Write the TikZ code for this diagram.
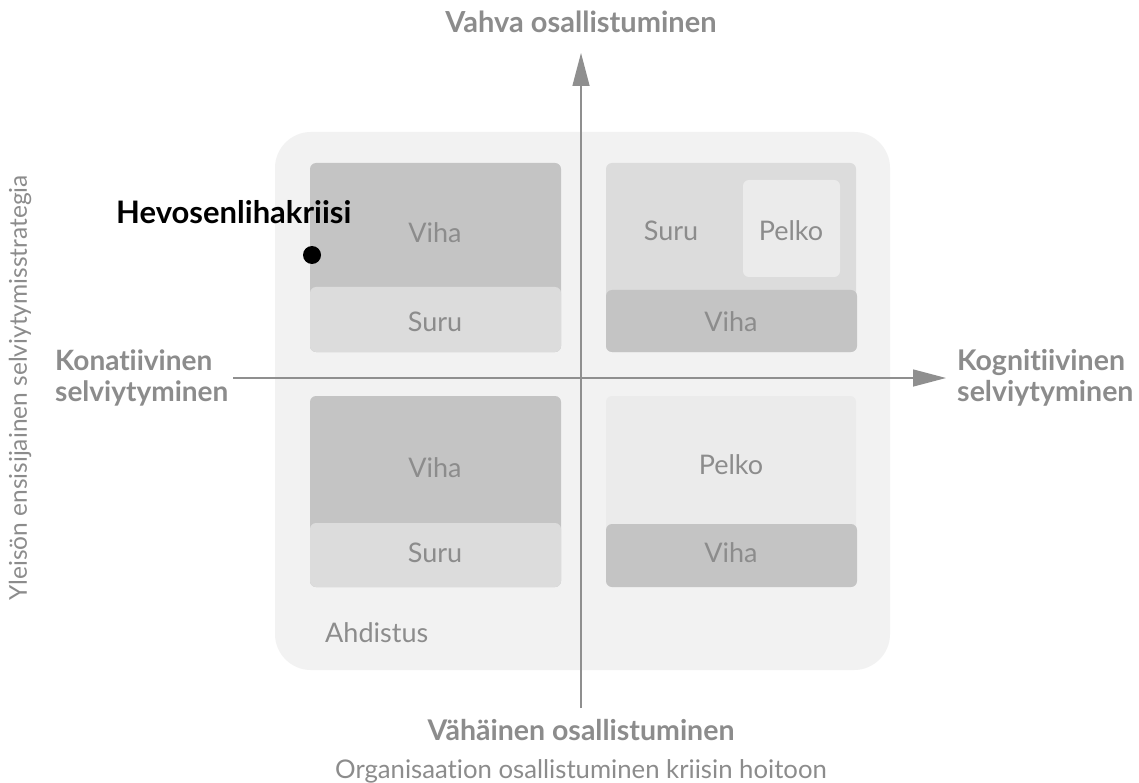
\documentclass[tikz,border=0pt]{standalone}
\usepackage{fontspec}
\setmainfont{Lato}[Ligatures=NoCommon]
\usetikzlibrary{arrows.meta}
\definecolor{txtgray}{HTML}{8C8C8C}
\definecolor{panel}{HTML}{F2F2F2}
\definecolor{darkbox}{HTML}{C4C4C4}
\definecolor{midbox}{HTML}{DCDCDC}
\definecolor{lightbox}{HTML}{EBEBEB}
\definecolor{axisgray}{HTML}{8F8F8F}
\tikzset{
  emo/.style={text=txtgray, font=\fontsize{27}{30}\selectfont, inner sep=0pt},
  axlabel/.style={text=txtgray, font=\bfseries\fontsize{28.5}{31}\selectfont, inner sep=0pt, align=left},
  axis/.style={draw=axisgray, line width=1.4pt, -{Triangle[length=33pt,width=17pt]}},
  boxr/.style={rounded corners=6pt}
}
\begin{document}
\begin{tikzpicture}[x=1pt,y=-1pt]
\useasboundingbox (0,0) rectangle (1139,783);
\fill[white] (0,0) rectangle (1139,783);

% background panel
\fill[panel, rounded corners=36pt] (275,132) rectangle (890,670);

% top-left quadrant
\fill[darkbox, boxr] (310,163) rectangle (561,352);
\fill[midbox, boxr] (310,287) rectangle (561,352);
% top-right quadrant
\fill[midbox, boxr] (606,163) rectangle (856,352);
\fill[lightbox, boxr] (743,180) rectangle (840,277);
\fill[darkbox, boxr] (606,290) rectangle (857,352);
% bottom-left quadrant
\fill[darkbox, boxr] (310,396) rectangle (561,587);
\fill[midbox, boxr] (310,523) rectangle (561,587);
% bottom-right quadrant
\fill[lightbox, boxr] (606,396) rectangle (856,587);
\fill[darkbox, boxr] (606,524) rectangle (857,587);

% emotion labels
\node[emo] (tlv) at (435,233) {Viha};
\node[emo] (tls) at (435,322) {Suru};
\node[emo] (trs) at (671,231) {Suru};
\node[emo] (trp) at (791,231) {Pelko};
\node[emo] (trv) at (731,322) {Viha};
\node[emo] (blv) at (435,468) {Viha};
\node[emo] (bls) at (435,553) {Suru};
\node[emo] (brp) at (731,465) {Pelko};
\node[emo] (brv) at (731,553) {Viha};
\node[emo, anchor=west] (ahd) at (325,633) {Ahdistus};

% axes
\coordinate (vbot) at (581,708);
\coordinate (vtop) at (581,53);
\coordinate (hleft) at (233,378);
\coordinate (hright) at (946,378);
\draw[axis] (vbot) -- (vtop);
\draw[axis] (hleft) -- (hright);

% axis labels
\node[axlabel, font=\bfseries\fontsize{29}{31}\selectfont] (top) at (581,22) {Vahva osallistuminen};
\node[axlabel] (bottom) at (581,730) {Vähäinen osallistuminen};
\node[text=txtgray, font=\fontsize{25.7}{28}\selectfont, inner sep=0pt] (xtitle) at (581,771) {Organisaation osallistuminen kriisin hoitoon};
\node[axlabel, anchor=west, font=\bfseries\fontsize{28}{31}\selectfont] (left) at (55,378) {Konatiivinen\\selviytyminen};
\node[axlabel, anchor=west, font=\bfseries\fontsize{28.5}{31}\selectfont] (right) at (957,378) {Kognitiivinen\\selviytyminen};
\node[text=txtgray, font=\fontsize{24.5}{26}\selectfont, inner sep=0pt, rotate=90] (ytitle) at (20,388) {Yleisön ensisijainen selviytymisstrategia};

% case marker
\node[font=\bfseries\fontsize{31}{33}\selectfont, inner sep=0pt, anchor=west] (case) at (116,212) {Hevosenlihakriisi};
\fill[black] (312,255) circle (9pt);
\end{tikzpicture}
\end{document}
